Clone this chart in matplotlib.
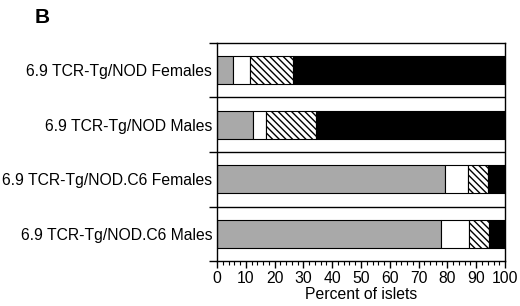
import numpy as np
import matplotlib.pyplot as plt
from matplotlib.ticker import MultipleLocator, FixedLocator

plt.rcParams['font.family'] = ['Liberation Sans', 'DejaVu Sans']

groups = ['6.9 TCR-Tg/NOD Females', '6.9 TCR-Tg/NOD Males',
          '6.9 TCR-Tg/NOD.C6 Females', '6.9 TCR-Tg/NOD.C6 Males']
gray_pct = [5.7, 12.6, 79.3, 77.6]
white_pct = [5.9, 4.5, 7.8, 9.9]
hatch_pct = [14.9, 17.3, 7.0, 7.0]
black_pct = [73.5, 65.6, 5.9, 5.5]

segs = [gray_pct, white_pct, hatch_pct, black_pct]
faces = ['#a9a9a9', 'white', 'white', 'black']
hatches = [None, None, '\\\\\\\\\\', None]

fig = plt.figure(figsize=(5.2, 3.06), dpi=100)
ax = fig.add_axes([0.4173, 0.147, 0.5539, 0.7125])

y = np.arange(1, len(groups) + 1)
left = np.zeros(len(groups))
for vals, fc, h in zip(segs, faces, hatches):
    ax.barh(y, vals, left=left, height=0.51, color=fc, edgecolor='black',
            linewidth=0.8, hatch=h)
    left += np.array(vals)

for b in [1.5, 2.5, 3.5]:
    ax.axhline(b, color='black', lw=1.0)

ax.set_xlim(0, 100)
ax.set_ylim(4.5, 0.5)
ax.xaxis.set_major_locator(MultipleLocator(10))
ax.xaxis.set_minor_locator(MultipleLocator(2))
ax.tick_params(axis='x', which='major', direction='out', length=5, width=1, labelsize=11.3, pad=2)
ax.tick_params(axis='x', which='minor', direction='out', length=3, width=0.8)

ax.yaxis.set_major_locator(FixedLocator([0.5, 1.5, 2.5, 3.5, 4.5]))
ax.yaxis.set_major_formatter(plt.NullFormatter())
ax.yaxis.set_minor_locator(FixedLocator(list(y)))
ax.set_yticklabels(groups, minor=True)
ax.tick_params(axis='y', which='major', direction='out', length=6, width=1)
ax.tick_params(axis='y', which='minor', length=0, labelsize=11.3, pad=3.5)

for s in ax.spines.values():
    s.set_linewidth(1.0)

ax.set_xlabel('Percent of islets', fontsize=11.3, labelpad=1)
fig.text(0.066, 0.925, 'B', fontsize=15, fontweight='bold')

fig.savefig('out.png', dpi=100)
